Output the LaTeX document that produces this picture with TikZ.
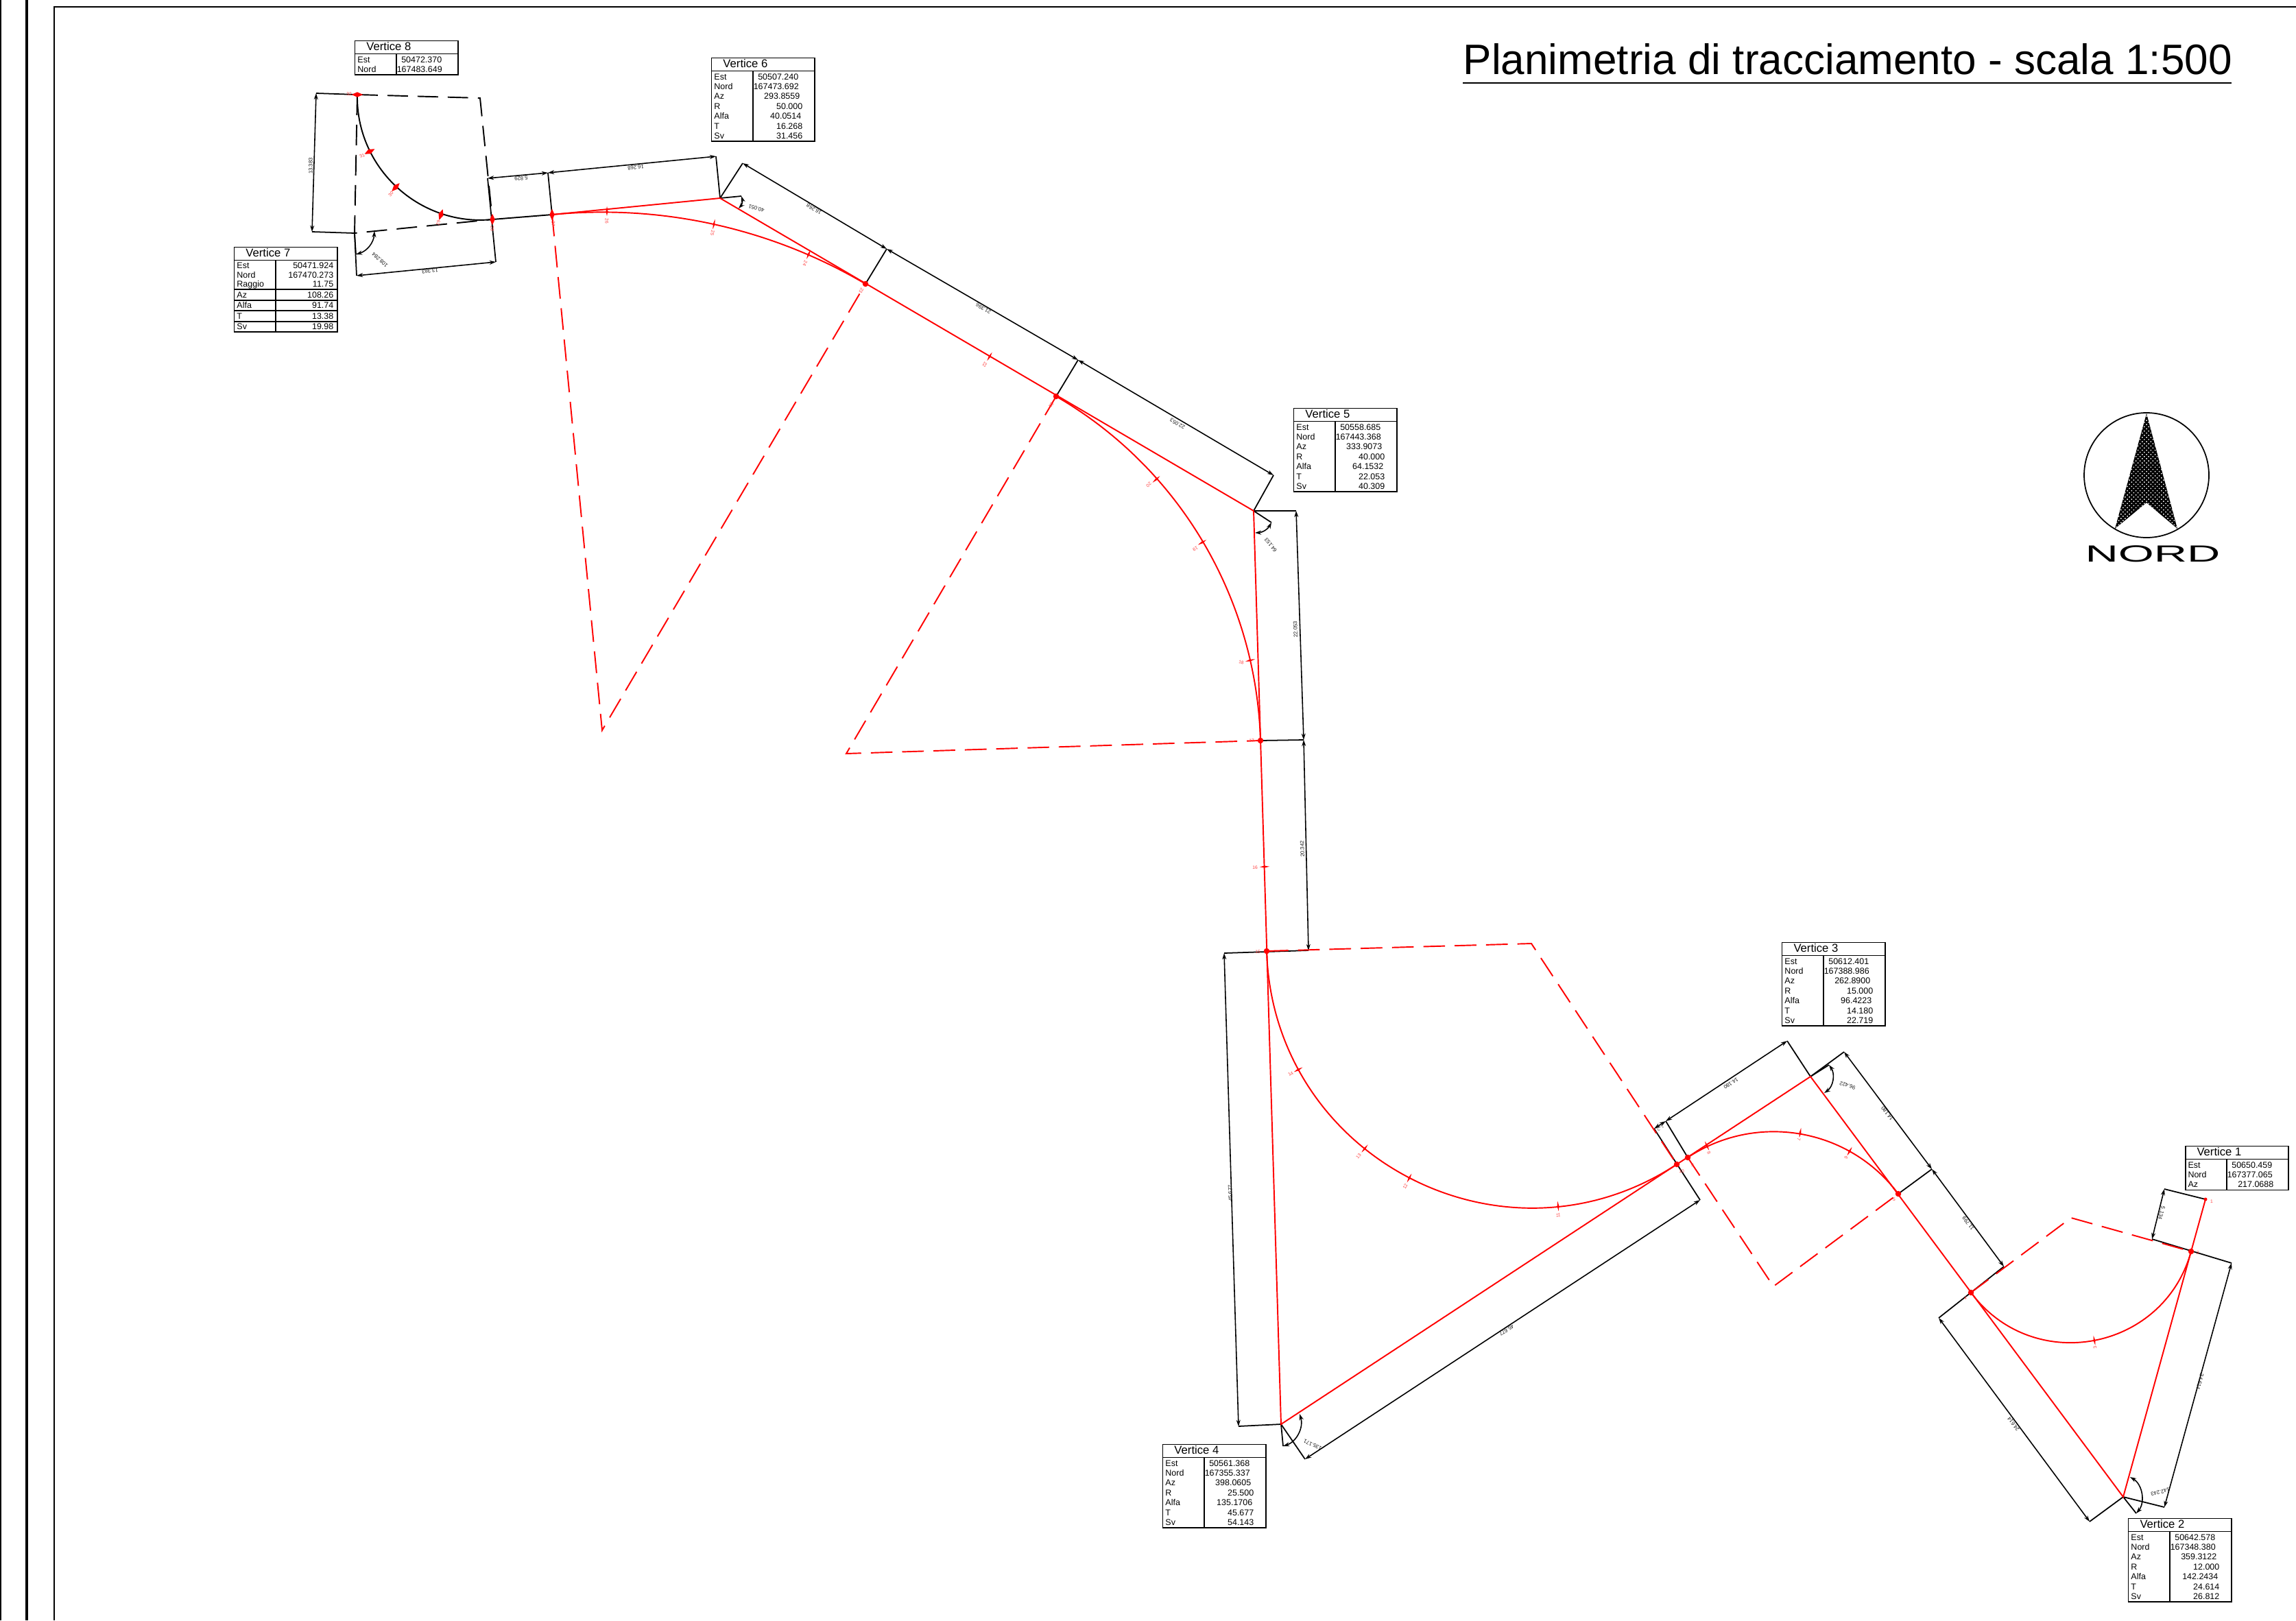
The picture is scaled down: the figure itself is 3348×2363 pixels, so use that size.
\documentclass[tikz,border=0pt]{standalone}
\usepackage{fontspec}
\setmainfont{Liberation Sans}
\usepackage{array}
\usepackage{tikz}
\usetikzlibrary{calc,arrows.meta,shapes.geometric,patterns.meta}
\tikzset{road/.style={red,line width=0.55pt},
         roaddash/.style={red,line width=0.55pt,dash pattern=on 9pt off 4pt},
         blackdash/.style={black,line width=0.55pt,dash pattern=on 8.5pt off 4pt},
         ext/.style={black,line width=0.5pt},
         dimen/.style={<->,>={Stealth[length=2.6pt,width=1.7pt]},line width=0.45pt},
         vtab/.style={anchor=north west,inner sep=0,font=\fontsize{3.55}{2}\selectfont},
         dimlab/.style={inner sep=0,text=black!90,font=\fontsize{2.2}{2.4}\selectfont},
         stnlab/.style={inner sep=0,text=red!75,font=\fontsize{1.9}{2.1}\selectfont},
         tick/.style={diamond,fill=red,inner sep=0,minimum width=0.15cm,minimum height=0.035cm},
         blob/.style={diamond,fill=red,inner sep=0,minimum width=0.17cm,minimum height=0.08cm},
         bigdot/.style={circle,fill=red,inner sep=0,minimum size=0.085cm}
}
\setlength{\arrayrulewidth}{0.5pt}
\newcolumntype{V}{|@{\kern0.03cm}p{0.555cm}@{}|@{}>{\raggedleft\arraybackslash}p{0.885cm}@{}|}
\newcommand{\vup}{4.1pt}
\newcommand{\vhead}[1]{\multicolumn{2}{|@{\hspace{0.16cm}}l|}{\fontsize{4.74}{5}\selectfont\rule[-1.1pt]{0pt}{4.85pt}#1}\\\hline}
\newcommand{\vrow}[3]{\rule[-0.75pt]{0pt}{\vup}#1 & #2\kern#3cm\\}
\newcommand{\vfull}[8]{\begin{tabular}{V}\hline\vhead{#1}\vrow{Est}{#2}{.23}\vrow{Nord}{#3}{.25}\vrow{Az}{#4}{.21}\vrow{R}{#5}{.17}\vrow{Alfa}{#6}{.19}\vrow{T}{#7}{.17}\vrow{Sv}{#8}{.17}\hline\end{tabular}}

\begin{document}
\begin{tikzpicture}[x=0.01cm,y=-0.01cm]
      \useasboundingbox (0,0) rectangle (3348,2363);
      \draw[line width=0.55pt] (1,0) -- (1,2363);
      \draw[line width=1.1pt] (39,0) -- (39,2363);
      \draw[line width=0.55pt] (79,2363) -- (79,10) -- (3348,10);

      \node[anchor=base west,inner sep=0,font=\fontsize{17.65}{20}\selectfont] (title) at (2133,108) {Planimetria di tracciamento - scala 1:500};
      \coordinate (U1) at (2133,121);
      \coordinate (U2) at (3254,121);
      \draw[line width=0.6pt] (U1) -- (U2);

      \coordinate (N0) at (3130,693);
      \coordinate (N1) at (3130,603);
      \coordinate (N2) at (3084,771);
      \coordinate (N3) at (3130,733);
      \coordinate (N4) at (3175,771);
      \draw[line width=0.5pt] (N0) circle (91);
      \fill[black] (N1) -- (N2) -- (N3) -- (N4) -- cycle;
      \fill[pattern={Dots[distance=1.25pt,radius=0.3pt,angle=45]},pattern color=white] (N1) -- (N2) -- (N3) -- (N4) -- cycle;
      \node[inner sep=0,xscale=1.96,transform shape,font=\fontsize{9.7}{10}\selectfont] (nord) at (3139,808) {NORD};

      \coordinate (V1) at (3216,1749);
      \coordinate (V2) at (3096,2183);
      \coordinate (V3) at (2640,1570);
      \coordinate (V4) at (1868,2077);
      \coordinate (V5) at (1828,745);
      \coordinate (V6) at (1050,289);
      \coordinate (V7) at (517,340);
      \coordinate (V8) at (521,138);
      \coordinate (T2b) at (3195,1825);
      \coordinate (T2a) at (2874,1885);
      \coordinate (T3b) at (2768,1741);
      \coordinate (T3a) at (2461,1688);
      \coordinate (T4b) at (2445,1698);
      \coordinate (T4a) at (1847,1387);
      \coordinate (T5b) at (1838,1080);
      \coordinate (T5a) at (1540,578);
      \coordinate (T6b) at (1262,414);
      \coordinate (T6a) at (805,313);
      \coordinate (T7b) at (718,320);
      \coordinate (C2) at (3020,1776);
      \coordinate (C3) at (2586,1876);
      \coordinate (C4) at (2233,1376);
      \coordinate (C5) at (1234,1099);
      \coordinate (C6) at (878,1065);
      \coordinate (C7) at (700,143);

      \coordinate (D8a) at (461,136);
      \coordinate (D7a) at (455,338);
      \coordinate (D7b) at (520,402);
      \coordinate (D7c) at (723,382);
      \coordinate (D7d) at (711,260);
      \coordinate (D6a) at (799,252);
      \coordinate (D6b) at (1044,228);
      \coordinate (D6c) at (1083,238);
      \coordinate (D6d) at (1293,363);
      \coordinate (D5a) at (1572,525);
      \coordinate (D5b) at (1857,693);
      \coordinate (D5c) at (1890,745);
      \coordinate (D5d) at (1901,1079);
      \coordinate (D4a) at (1908,1386);
      \coordinate (D4b) at (1785,1390);
      \coordinate (D4c) at (1806,2080);
      \coordinate (D4d) at (1903,2128);
      \coordinate (D4e) at (2479,1750);
      \coordinate (D3a) at (2412,1646);
      \coordinate (D3b) at (2429,1635);
      \coordinate (D3c) at (2606,1518);
      \coordinate (D3d) at (2689,1534);
      \coordinate (D3e) at (2817,1705);
      \coordinate (D2a) at (2922,1847);
      \coordinate (D2b) at (2827,1922);
      \coordinate (D2c) at (3047,2219);
      \coordinate (D2d) at (3254,1842);
      \coordinate (D2e) at (3156,2198);
      \coordinate (D1a) at (3138,1807);
      \coordinate (D1b) at (3156,1734);
      \coordinate (A7a) at (519,371);
      \coordinate (A7b) at (546,337);
      \coordinate (A6a) at (1081,286);
      \coordinate (A6b) at (1077,304);
      \coordinate (A5a) at (1854,762);
      \coordinate (A5b) at (1830,777);
      \coordinate (A4a) at (1871,2109);
      \coordinate (A4b) at (1895,2062);
      \coordinate (A3a) at (2667,1553);
      \coordinate (A3b) at (2660,1594);
      \coordinate (A2a) at (3115,2207);
      \coordinate (A2b) at (3106,2154);

      \draw[ext] (V8) -- (D8a);
      \draw[ext] (V7) -- (D7a);
      \draw[ext] (V7) -- (D7b);
      \draw[ext] (D7d) -- (D7c);
      \draw[ext] (T6a) -- (D6a);
      \draw[ext] (V6) -- (D6b);
      \draw[ext] (V6) -- (D6c);
      \draw[ext] (T6b) -- (D6d);
      \draw[ext] (T5a) -- (D5a);
      \draw[ext] (V5) -- (D5b);
      \draw[ext] (V5) -- (D5c);
      \draw[ext] (T5b) -- (D5d);
      \draw[ext] (D4b) -- (D4a);
      \draw[ext] (V4) -- (D4c);
      \draw[ext] (V4) -- (D4d);
      \draw[ext] (D3a) -- (D4e);
      \draw[ext] (T3a) -- (D3b);
      \draw[ext] (V3) -- (D3c);
      \draw[ext] (V3) -- (D3d);
      \draw[ext] (T3b) -- (D3e);
      \draw[ext] (D2b) -- (D2a);
      \draw[ext] (V2) -- (D2c);
      \draw[ext] (V2) -- (D2e);
      \draw[ext] (D2d) -- (D1a);
      \draw[ext] (V1) -- (D1b);
      \draw[ext] (V7) -- (A7a);
      \draw[ext] (V6) -- (A6a);
      \draw[ext] (V5) -- (A5a);
      \draw[ext] (V4) -- (A4a);
      \draw[ext] (V3) -- (A3a);
      \draw[ext] (V2) -- (A2a);

      \draw[dimen] (D8a) -- (D7a);
      \draw[dimen] (D7b) -- (D7c);
      \draw[dimen] (D7d) -- (D6a);
      \draw[dimen] (D6a) -- (D6b);
      \draw[dimen] (D6c) -- (D6d);
      \draw[dimen] (D6d) -- (D5a);
      \draw[dimen] (D5a) -- (D5b);
      \draw[dimen] (D5c) -- (D5d);
      \draw[dimen] (D5d) -- (D4a);
      \draw[dimen] (D4b) -- (D4c);
      \draw[dimen] (D4d) -- (D4e);
      \draw[dimen] (D3a) -- (D3b);
      \draw[dimen] (D3b) -- (D3c);
      \draw[dimen] (D3d) -- (D3e);
      \draw[dimen] (D3e) -- (D2a);
      \draw[dimen] (D2b) -- (D2c);
      \draw[dimen] (D2d) -- (D2e);
      \draw[dimen] (D1a) -- (D1b);
      \draw[dimen] (A7a) to[bend right=35] (A7b);
      \draw[dimen] (A6a) to[bend left=30] (A6b);
      \draw[dimen] (A5a) to[bend left=30] (A5b);
      \draw[dimen] (A4a) to[bend right=45] (A4b);
      \draw[dimen] (A3a) to[bend left=45] (A3b);
      \draw[dimen] (A2a) to[bend right=50] (A2b);

      \node[dimlab,rotate=90] (d1) at (453,242) {13.383};
      \node[dimlab,rotate=185.6] (d2) at (627,395) {13.383};
      \node[dimlab,rotate=185.6] (d3) at (760,260) {5.829};
      \node[dimlab,rotate=185.6] (d4) at (927,244) {16.268};
      \node[dimlab,rotate=138] (d5) at (554,379) {108.284};
      \node[dimlab,rotate=149] (d6) at (1187,305) {16.268};
      \node[dimlab,rotate=149] (d7) at (1434,450) {21.396};
      \node[dimlab,rotate=149] (d8) at (1717,618) {22.053};
      \node[dimlab,rotate=163] (d9) at (1103,304) {40.051};
      \node[dimlab,rotate=128] (d10) at (1853,795) {64.153};
      \node[dimlab,rotate=92] (d11) at (1889,918) {22.053};
      \node[dimlab,rotate=92] (d12) at (1899,1238) {20.342};
      \node[dimlab,rotate=92] (d13) at (1794,1740) {45.677};
      \node[dimlab,rotate=213.5] (d14) at (2197,1940) {45.677};
      \node[dimlab,rotate=156] (d15) at (1914,2107) {135.171};
      \node[dimlab,rotate=213.5,text=black!50] (d16) at (2421,1645) {1.3};
      \node[dimlab,rotate=213.5] (d17) at (2524,1580) {14.180};
      \node[dimlab,rotate=162] (d18) at (2694,1583) {96.422};
      \node[dimlab,rotate=127] (d19) at (2752,1624) {14.180};
      \node[dimlab,rotate=127] (d20) at (2870,1784) {11.799};
      \node[dimlab,rotate=126.5] (d21) at (2936,2077) {24.614};
      \node[dimlab,rotate=254.6] (d22) at (3208,2015) {24.614};
      \node[dimlab,rotate=195] (d23) at (3150,2176) {142.243};
      \node[dimlab,rotate=254.6] (d24) at (3152,1769) {5.134};

      \draw[blackdash] (V8) -- (C7) -- (T7b);
      \draw[blackdash] (V8) -- (V7) -- (T7b);
      \draw[black,line width=0.55pt] (V8) .. controls ($(V8)!0.5297!(V7)$) and ($(T7b)!0.5297!(V7)$) .. (T7b) -- (T6a);

      \draw[roaddash] (T6a) -- (C6) -- (T6b);
      \draw[roaddash] (T5a) -- (C5) -- (T5b);
      \draw[roaddash] (T4a) -- (C4) -- (T4b);
      \draw[roaddash] (T3a) -- (C3) -- (T3b);
      \draw[roaddash] (T2a) -- (C2) -- (T2b);
      \draw[road] (T6a) -- (V6) -- (V5) -- (V4) -- (V3) -- (V2) -- (V1);
      \draw[road] (T6a) .. controls ($(T6a)!0.6497!(V6)$) and ($(T6b)!0.6497!(V6)$) .. (T6b);
      \draw[road] (T5a) .. controls ($(T5a)!0.6225!(V5)$) and ($(T5b)!0.6225!(V5)$) .. (T5b);
      \draw[road] (T4a) .. controls ($(T4a)!0.4368!(V4)$) and ($(T4b)!0.4368!(V4)$) .. (T4b);
      \draw[road] (T3a) .. controls ($(T3a)!0.5612!(V3)$) and ($(T3b)!0.5612!(V3)$) .. (T3b);
      \draw[road] (T2a) .. controls ($(T2a)!0.4063!(V2)$) and ($(T2b)!0.4063!(V2)$) .. (T2b);

      \node[bigdot,minimum size=0.05cm] (s1) at (V1) {};
      \node[bigdot] (s2) at (T2b) {};
      \node[tick,rotate=-79] (s3) at (3054,1955) {};
      \node[bigdot] (s4) at (T2a) {};
      \node[bigdot] (s5) at (T3b) {};
      \node[tick,rotate=60.6] (s6) at (2697,1679) {};
      \node[tick,rotate=80] (s7) at (2625,1652) {};
      \node[tick,rotate=115] (s8) at (2489,1671) {};
      \node[bigdot] (s9) at (T3a) {};
      \node[bigdot] (s10) at (T4b) {};
      \node[tick,rotate=-84] (s11) at (2272,1759) {};
      \node[tick,rotate=-117.5] (s12) at (2055,1718) {};
      \node[tick,rotate=-129] (s13) at (1990,1675) {};
      \node[tick,rotate=-152] (s14) at (1893,1560) {};
      \node[bigdot] (s15) at (T4a) {};
      \node[tick,rotate=2] (s16) at (1844,1264) {};
      \node[bigdot] (s17) at (T5b) {};
      \node[tick,rotate=13] (s18) at (1823,963) {};
      \node[tick,rotate=30.7] (s19) at (1753,791) {};
      \node[tick,rotate=41.5] (s20) at (1686,699) {};
      \node[bigdot] (s21) at (T5a) {};
      \node[tick,rotate=59.6] (s22) at (1443,520) {};
      \node[bigdot] (s23) at (T6b) {};
      \node[tick,rotate=66.6] (s24) at (1179,371) {};
      \node[tick,rotate=77.5] (s25) at (1041,327) {};
      \node[tick,rotate=89.5] (s26) at (885,308) {};
      \node[blob,rotate=90] (s27) at (T6a) {};
      \node[blob,rotate=90] (s28) at (T7b) {};
      \node[blob,rotate=-108.5] (s29) at (643,313) {};
      \node[blob,rotate=-133.4] (s30) at (577,273) {};
      \node[blob,rotate=-154] (s31) at (539,221) {};
      \node[blob] (s32) at (V8) {};

      \node[stnlab] (l1) at (3225,1752) {1};
      \node[stnlab] (l2) at (3205,1827) {2};
      \node[stnlab,rotate=101] (l3) at (3055,1965) {3};
      \node[stnlab] (l4) at (2866,1893) {4};
      \node[stnlab] (l5) at (2762,1749) {5};
      \node[stnlab,rotate=240] (l6) at (2692,1688) {6};
      \node[stnlab,rotate=260] (l7) at (2623,1662) {7};
      \node[stnlab,rotate=295] (l8) at (2492,1681) {8};
      \node[stnlab] (l9) at (2468,1699) {9};
      \node[stnlab] (l10) at (2452,1708) {10};
      \node[stnlab,rotate=96] (l11) at (2272,1772) {11};
      \node[stnlab,rotate=62] (l12) at (2049,1730) {12};
      \node[stnlab,rotate=51] (l13) at (1981,1686) {13};
      \node[stnlab,rotate=28] (l14) at (1882,1566) {14};
      \node[stnlab] (l15) at (1834,1388) {15};
      \node[stnlab] (l16) at (1830,1265) {16};
      \node[stnlab] (l17) at (1825,1080) {17};
      \node[stnlab,rotate=-7] (l18) at (1810,966) {18};
      \node[stnlab,rotate=210] (l19) at (1743,800) {19};
      \node[stnlab,rotate=221] (l20) at (1675,707) {20};
      \node[stnlab,rotate=240] (l21) at (1533,591) {21};
      \node[stnlab,rotate=240] (l22) at (1436,532) {22};
      \node[stnlab,rotate=240] (l23) at (1256,424) {23};
      \node[stnlab,rotate=247] (l24) at (1174,384) {24};
      \node[stnlab,rotate=257] (l25) at (1039,340) {25};
      \node[stnlab,rotate=270] (l26) at (885,322) {26};
      \node[stnlab,rotate=270] (l27) at (807,326) {27};
      \node[stnlab,rotate=270] (l28) at (718,333) {28};
      \node[stnlab,rotate=71.5] (l29) at (639,325) {29};
      \node[stnlab,rotate=46.6] (l30) at (570,283) {30};
      \node[stnlab,rotate=26] (l31) at (528,227) {31};
      \node[stnlab] (l32) at (509,137) {32};

      \node[vtab] (tabV8) at (516,58) {\begin{tabular}{V}\hline\vhead{Vertice 8}\vrow{Est}{50472.370}{.23}\vrow{Nord}{167483.649}{.25}\hline\end{tabular}};
      \node[vtab] (tabV1) at (3185,1670) {\begin{tabular}{V}\hline\vhead{Vertice 1}\vrow{Est}{50650.459}{.23}\vrow{Nord}{167377.065}{.25}\vrow{Az}{217.0688}{.21}\hline\end{tabular}};
      \node[vtab] (tabV7) at (340,359) {\renewcommand{\vup}{3.9pt}\begin{tabular}{V}\hline\vhead{Vertice 7}\vrow{Est}{50471.924}{.05}\vrow{Nord}{167470.273}{.05}\vrow{Raggio}{11.75}{.05}\hline\vrow{Az}{108.26}{.05}\hline\vrow{Alfa}{91.74}{.05}\hline\vrow{T}{13.38}{.05}\hline\vrow{Sv}{19.98}{.05}\hline\end{tabular}};
      \node[vtab] (tabV6) at (1036,83) {\vfull{Vertice 6}{50507.240}{167473.692}{293.8559}{50.000}{40.0514}{16.268}{31.456}};
      \node[vtab] (tabV5) at (1885,594) {\vfull{Vertice 5}{50558.685}{167443.368}{333.9073}{40.000}{64.1532}{22.053}{40.309}};
      \node[vtab] (tabV4) at (1694,2105) {\vfull{Vertice 4}{50561.368}{167355.337}{398.0605}{25.500}{135.1706}{45.677}{54.143}};
      \node[vtab] (tabV3) at (2597,1373) {\vfull{Vertice 3}{50612.401}{167388.986}{262.8900}{15.000}{96.4223}{14.180}{22.719}};
      \node[vtab] (tabV2) at (3102,2213) {\vfull{Vertice 2}{50642.578}{167348.380}{359.3122}{12.000}{142.2434}{24.614}{26.812}};
\end{tikzpicture}
\end{document}
